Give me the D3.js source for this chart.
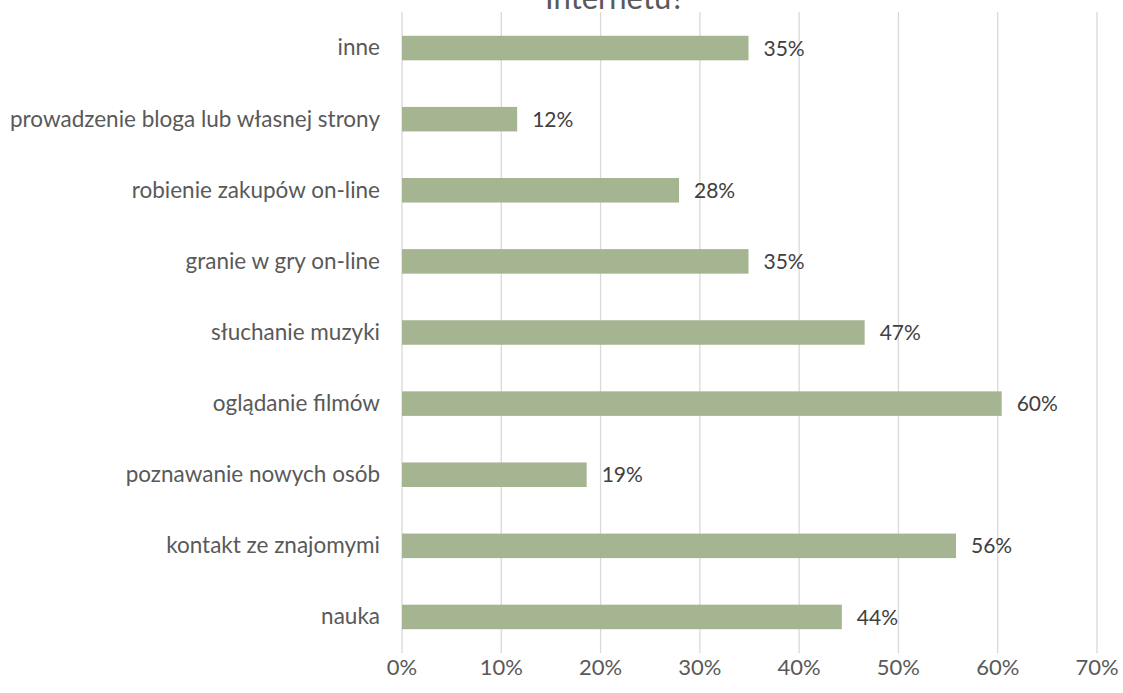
<!DOCTYPE html>
<html><head><meta charset="utf-8">
<script src="https://cdn.jsdelivr.net/npm/d3@7"></script>
<style>html,body{margin:0;padding:0;background:#fff;overflow:hidden}</style>
</head><body>
<svg id="c" width="1123" height="693"></svg>
<script>
const categories = ["inne","prowadzenie bloga lub własnej strony","robienie zakupów on-line","granie w gry on-line","słuchanie muzyki","oglądanie filmów","poznawanie nowych osób","kontakt ze znajomymi","nauka"];
const values = [34.9, 11.6, 27.9, 34.9, 46.6, 60.4, 18.6, 55.8, 44.3];
const labels = ["35%","12%","28%","35%","47%","60%","19%","56%","44%"];
const ticks = [0,10,20,30,40,50,60,70];
const titleText = "Internetu?";

const svg = d3.select("#c");
const font = "Lato, 'Open Sans', sans-serif";
const x = d3.scaleLinear().domain([0,70]).range([402,1097]);
const y = d3.scaleBand().domain(categories).range([12.5,652.5]).paddingInner(0.655).paddingOuter(0.3275);

svg.append("text").attr("x",615).attr("y",9).attr("text-anchor","middle")
  .attr("font-family",font).attr("font-size",31).attr("fill","#595959").text(titleText);

svg.append("g").selectAll("line").data(ticks).join("line")
  .attr("x1",d=>x(d)).attr("x2",d=>x(d)).attr("y1",12).attr("y2",653)
  .attr("stroke","#d9d9d9").attr("stroke-width",1.3);

svg.append("g").selectAll("rect").data(values).join("rect")
  .attr("x",x(0)).attr("y",(d,i)=>y(categories[i]))
  .attr("width",d=>x(d)-x(0)).attr("height",y.bandwidth())
  .attr("fill","#a5b592");

svg.append("g").selectAll("text").data(values).join("text")
  .attr("x",d=>x(d)+15).attr("y",(d,i)=>y(categories[i])+y.bandwidth()/2)
  .attr("dy","0.36em").attr("font-family",font).attr("font-size",21).attr("fill","#404040")
  .text((d,i)=>labels[i]);

svg.append("g").selectAll("text").data(categories).join("text")
  .attr("x",380).attr("y",d=>y(d)+y.bandwidth()/2).attr("dy","0.33em")
  .attr("text-anchor","end").attr("font-family",font).attr("font-size",22.5).attr("fill","#595959")
  .text(d=>d);

svg.append("g").selectAll("text").data(ticks).join("text")
  .attr("x",d=>x(d)).attr("y",667).attr("dy","0.36em").attr("text-anchor","middle")
  .attr("font-family",font).attr("font-size",22).attr("fill","#595959")
  .text(d=>d+"%");
</script>
</body></html>
